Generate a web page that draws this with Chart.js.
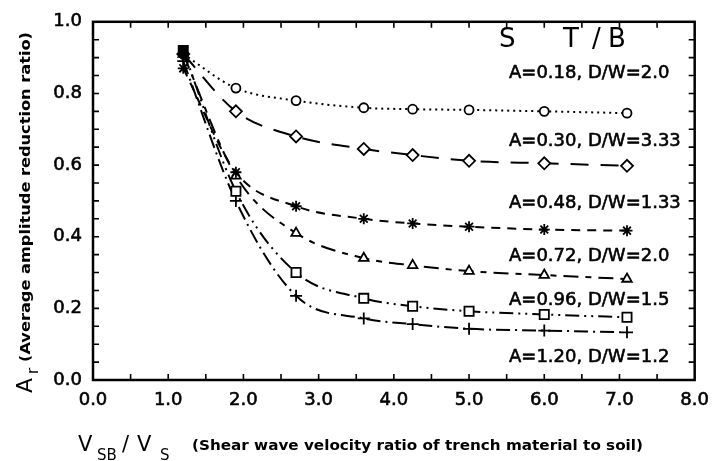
<!DOCTYPE html>
<html>
<head>
<meta charset="utf-8">
<script src="https://cdn.jsdelivr.net/npm/chart.js@4.4.0/dist/chart.umd.min.js"></script>
<style>
  html, body { margin:0; padding:0; background:#fff; }
  #wrap { width:719px; height:461px; position:relative; }
</style>
</head>
<body>
<div id="wrap"><canvas id="arChart"></canvas></div>
<script>
// Vsb/Vs ratios at which each trench case was evaluated
const RATIO = [1.2, 1.9, 2.7, 3.6, 4.25, 5.0, 6.0, 7.1];

// Average amplitude reduction ratio Ar, one array per trench case
const AR_A018 = [0.91, 0.815, 0.78, 0.76, 0.756, 0.754, 0.75, 0.745];
const AR_A030 = [0.91, 0.75, 0.68, 0.645, 0.628, 0.612, 0.605, 0.598];
const AR_A048 = [0.87, 0.58, 0.485, 0.45, 0.437, 0.428, 0.42, 0.417];
const AR_A072 = [0.91, 0.57, 0.41, 0.34, 0.32, 0.304, 0.293, 0.282];
const AR_A096 = [0.92, 0.527, 0.30, 0.228, 0.206, 0.192, 0.183, 0.175];
const AR_A120 = [0.89, 0.50, 0.235, 0.172, 0.156, 0.143, 0.138, 0.133];

const CASES = [
  "A=0.18, D/W=2.0",
  "A=0.30, D/W=3.33",
  "A=0.48, D/W=1.33",
  "A=0.72, D/W=2.0",
  "A=0.96, D/W=1.5",
  "A=1.20, D/W=1.2"
];

const X_TICKS = [0, 1, 2, 3, 4, 5, 6, 7, 8];
const Y_TICKS = [0, 0.2, 0.4, 0.6, 0.8, 1.0];

const FONT = "'DejaVu Sans', sans-serif";

function pts(ys) {
  return RATIO.map((r, i) => ({x: r, y: ys[i]}));
}

// first point of each curve sits in the black cluster at Vsb/Vs = 1.2
function fills(n) {
  return Array.from({length: n}, (_, i) => i === 0 ? "#000" : "#fff");
}

function series(label, ys, style, radius, dash) {
  return {
    label,
    data: pts(ys),
    borderColor: "#000",
    borderWidth: 2,
    borderDash: dash,
    cubicInterpolationMode: "monotone",
    pointStyle: style,
    pointRadius: radius,
    pointBorderWidth: 1.8,
    pointBorderColor: "#000",
    pointBackgroundColor: fills(ys.length)
  };
}

// frame, inward ticks, case labels and axis titles
const decor = {
  id: "decor",
  afterDraw(chart) {
    const {ctx, chartArea: a, scales: {x, y}} = chart;
    ctx.save();
    ctx.strokeStyle = "#000";
    ctx.fillStyle = "#000";

    ctx.lineWidth = 2.5;
    ctx.strokeRect(a.left, a.top, a.right - a.left, a.bottom - a.top);

    ctx.lineWidth = 1.6;
    ctx.beginPath();
    for (let k = 1; k < 16; k++) {
      const px = x.getPixelForValue(k * 0.5);
      ctx.moveTo(px, a.bottom); ctx.lineTo(px, a.bottom - 6);
      ctx.moveTo(px, a.top); ctx.lineTo(px, a.top + 6);
    }
    for (let k = 1; k < 20; k++) {
      const py = y.getPixelForValue(k * 0.05);
      ctx.moveTo(a.left, py); ctx.lineTo(a.left + 6, py);
      ctx.moveTo(a.right, py); ctx.lineTo(a.right - 6, py);
    }
    ctx.stroke();

    // fill plus a thin outline gives the medium stroke weight
    ctx.lineWidth = 0.6;
    ctx.lineJoin = "round";
    const heavy = (s, px, py) => { ctx.fillText(s, px, py); ctx.strokeText(s, px, py); };

    // header over the case labels
    ctx.textBaseline = "alphabetic";
    ctx.textAlign = "left";
    ctx.font = "26px " + FONT;
    ctx.fillText("S", 499, 47);
    ctx.fillText("T", 563, 47);
    ctx.fillText("/", 592, 47);
    ctx.fillText("B", 608, 47);

    ctx.font = "18px " + FONT;
    const base = [78, 146, 208, 261, 305, 362];
    CASES.forEach((t, i) => heavy(t, 509, base[i]));

    // scaled text helper: draws s so that it spans width w
    const fitText = (s, px, py, w) => {
      const m = ctx.measureText(s).width;
      ctx.save();
      ctx.translate(px, py);
      ctx.scale(w / m, 1);
      ctx.fillText(s, 0, 0);
      ctx.restore();
    };

    // x axis title
    ctx.font = "21px " + FONT;
    ctx.fillText("V", 78, 451);
    ctx.fillText("/", 122, 451);
    ctx.fillText("V", 137, 451);
    ctx.font = "15px " + FONT;
    ctx.fillText("SB", 97, 460);
    ctx.fillText("S", 160, 460);
    ctx.font = "bold 14px " + FONT;
    fitText("(Shear wave velocity ratio of trench material to soil)", 192, 450, 451);

    // y axis title, rotated
    ctx.save();
    ctx.translate(32, 393);
    ctx.rotate(-Math.PI / 2);
    ctx.font = "22px " + FONT;
    ctx.fillText("A", 0, 0);
    ctx.font = "15px " + FONT;
    ctx.fillText("r", 19, 6);
    ctx.font = "bold 14px " + FONT;
    fitText("(Average amplitude reduction ratio)", 31, -2, 330);
    ctx.restore();

    ctx.restore();
  }
};

const tickFont = { family: FONT, size: 18 };

new Chart(document.getElementById("arChart"), {
  type: "line",
  data: {
    datasets: [
      series(CASES[0], AR_A018, "circle", 4.5, [2, 4]),
      series(CASES[1], AR_A030, "rectRot", 6, [18, 12]),
      series(CASES[2], AR_A048, "star", 5.5, [9, 7]),
      series(CASES[3], AR_A072, "triangle", 5.5, [15, 7, 6, 7]),
      series(CASES[4], AR_A096, "rect", 6.5, [14, 5, 2, 5, 2, 5]),
      series(CASES[5], AR_A120, "cross", 6, [14, 5, 2, 5])
    ]
  },
  options: {
    responsive: true,
    maintainAspectRatio: false,
    animation: false,
    layout: { padding: { top: 14, right: 20, left: 0, bottom: 0 } },
    plugins: { legend: { display: false }, tooltip: { enabled: false } },
    scales: {
      x: {
        type: "linear",
        min: 0, max: 8,
        afterBuildTicks: s => { s.ticks = X_TICKS.map(v => ({value: v})); },
        afterFit: s => { s.height = 81; },
        grid: { display: false, drawTicks: false },
        border: { display: false },
        ticks: {
          color: "#000",
          padding: 10,
          maxRotation: 0,
          font: tickFont,
          textStrokeColor: "#000",
          textStrokeWidth: 0.6,
          callback: v => Number(v).toFixed(1)
        }
      },
      y: {
        min: 0, max: 1,
        afterBuildTicks: s => { s.ticks = Y_TICKS.map(v => ({value: v})); },
        afterFit: s => { s.width = 93; },
        grid: { display: false, drawTicks: false },
        border: { display: false },
        ticks: {
          color: "#000",
          padding: 11,
          font: tickFont,
          textStrokeColor: "#000",
          textStrokeWidth: 0.6,
          callback: v => Number(v).toFixed(1)
        }
      }
    }
  },
  plugins: [decor]
});
</script>
</body>
</html>
